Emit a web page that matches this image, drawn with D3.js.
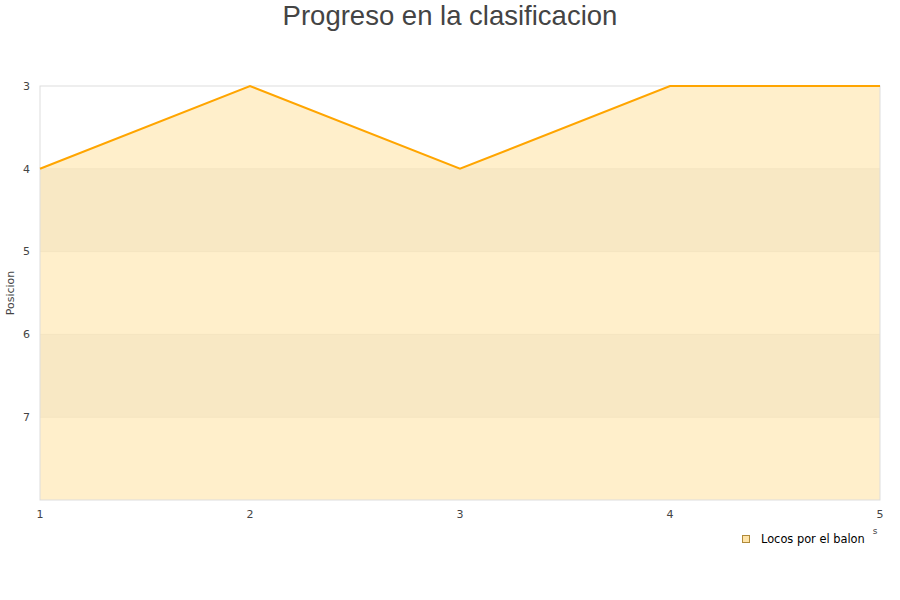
<!DOCTYPE html>
<html><head><meta charset="utf-8">
<script src="https://cdn.jsdelivr.net/npm/d3@7"></script>
<style>body{margin:0;background:#fff}svg{display:block}</style>
</head><body>
<script>
const jornadas = [1, 2, 3, 4, 5];
const posiciones = [4, 3, 4, 3, 3];
const yTicks = [3, 4, 5, 6, 7];
const seriesName = "Locos por el balon";
const title = "Progreso en la clasificacion";

const W = 900, H = 600;
const m = {l: 40, r: 20, t: 86, b: 100};
const svg = d3.select("body").append("svg").attr("width", W).attr("height", H);
const x = d3.scaleLinear().domain([1, 5]).range([m.l, W - m.r]);
const y = d3.scaleLinear().domain([3, 8]).range([m.t, H - m.b]);
const font = "'DejaVu Sans', sans-serif";

// bands
const bands = [[4, 5], [6, 7]];
svg.selectAll("rect.band").data(bands).join("rect")
  .attr("x", x(1)).attr("width", x(5) - x(1))
  .attr("y", d => y(d[0])).attr("height", d => y(d[1]) - y(d[0]))
  .attr("fill", "#eeeeee");
// grid
svg.selectAll("line.grid").data(yTicks.slice(1)).join("line")
  .attr("x1", x(1)).attr("x2", x(5)).attr("y1", d => y(d)).attr("y2", d => y(d))
  .attr("stroke", "#e4e4e4");
// area
const area = d3.area().x((d, i) => x(jornadas[i])).y0(y(8)).y1(d => y(d));
svg.append("path").datum(posiciones).attr("d", area)
  .attr("fill", "#ffe4a8").attr("fill-opacity", 0.6);
// frame
svg.append("rect").attr("x", x(1)).attr("y", y(3)).attr("width", x(5) - x(1)).attr("height", y(8) - y(3))
  .attr("fill", "none").attr("stroke", "#dddddd");
// line
const line = d3.line().x((d, i) => x(jornadas[i])).y(d => y(d));
svg.append("path").datum(posiciones).attr("d", line)
  .attr("fill", "none").attr("stroke", "#ffa500").attr("stroke-width", 2);

// y ticks
svg.selectAll("text.yt").data(yTicks).join("text")
  .attr("x", 30).attr("y", d => y(d)).attr("dy", "0.35em").attr("text-anchor", "end")
  .attr("font-family", font).attr("font-size", 11).attr("fill", "#444").text(d => d);
// x ticks
svg.selectAll("text.xt").data(jornadas).join("text")
  .attr("x", d => x(d)).attr("y", 518).attr("text-anchor", "middle")
  .attr("font-family", font).attr("font-size", 11).attr("fill", "#444").text(d => d);
// y title
svg.append("text").attr("transform", `translate(14,${(y(3) + y(8)) / 2}) rotate(-90)`)
  .attr("text-anchor", "middle").attr("font-family", font).attr("font-size", 11).attr("fill", "#444").text("Posicion");
// small x title remnant
svg.append("text").attr("x", 875).attr("y", 534).attr("text-anchor", "middle")
  .attr("font-family", font).attr("font-size", 9).attr("fill", "#444").text("s");
// title
svg.append("text").attr("x", W / 2).attr("y", 25).attr("text-anchor", "middle")
  .attr("font-family", "'Liberation Sans', Arial, sans-serif").attr("font-size", 27.5).attr("fill", "#444").text(title);
// legend
svg.append("rect").attr("x", 742.5).attr("y", 535.5).attr("width", 7).attr("height", 7)
  .attr("fill", "#ffe4a8").attr("stroke", "#b08a3a");
svg.append("text").attr("x", 761).attr("y", 539).attr("dy", "0.35em")
  .attr("font-family", font).attr("font-size", 11.4).attr("fill", "#000").text(seriesName);
</script>
</body></html>
